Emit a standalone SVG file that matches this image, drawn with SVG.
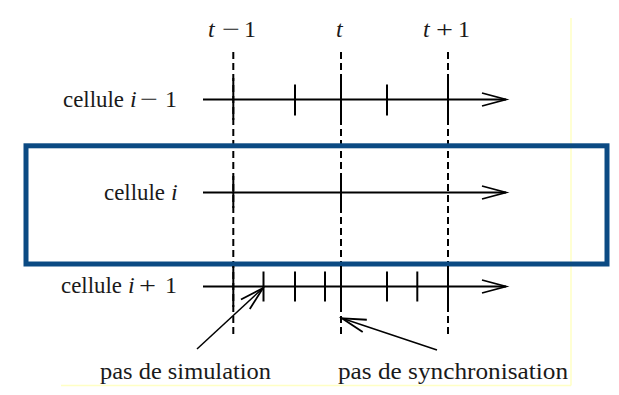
<svg xmlns="http://www.w3.org/2000/svg" width="619" height="395" viewBox="0 0 619 395">
<style>
text{font-family:"Liberation Serif","DejaVu Serif",serif;font-size:24px;fill:#1a1a1a}
.m{font-style:italic}
.ax{stroke:#000;stroke-width:2;fill:none}
.tk{stroke:#000;stroke-width:2}
.dash{stroke:#000;stroke-width:2;stroke-dasharray:7 4}
.ptr{stroke:#000;stroke-width:1.5;fill:none}
</style>
<defs>
<marker id="open" markerUnits="userSpaceOnUse" orient="auto" refX="0" refY="0" markerWidth="40" markerHeight="20" overflow="visible">
<path d="M-24,-6.5 L0,0 L-24,6.5" fill="none" stroke="#000" stroke-width="1.8"/>
</marker>
</defs>
<rect width="619" height="395" fill="#fff"/>
<g id="frame" stroke="#ffffc4" stroke-width="1.5" fill="none">
<line x1="571" y1="18" x2="571" y2="385.5"/>
<line x1="61" y1="385.5" x2="571" y2="385.5"/>
</g>
<g id="time-labels">
<text x="208" y="37"><tspan class="m">t</tspan><tspan x="222" textLength="18" lengthAdjust="spacingAndGlyphs">−</tspan><tspan x="244">1</tspan></text>
<text x="336" y="37" class="m">t</text>
<text x="423" y="37"><tspan class="m">t</tspan><tspan x="436" textLength="17" lengthAdjust="spacingAndGlyphs">+</tspan><tspan x="458">1</tspan></text>
</g>
<g id="time-lines">
<line class="dash" x1="233.3" y1="52" x2="233.3" y2="334"/>
<line class="dash" x1="341" y1="52" x2="341" y2="334"/>
<line class="dash" x1="448" y1="52" x2="448" y2="334"/>
</g>
<g id="cell-i-minus-1">
<text x="63" y="107"><tspan textLength="61" lengthAdjust="spacingAndGlyphs">cellule</tspan><tspan class="m" x="130">i</tspan><tspan x="140" textLength="18" lengthAdjust="spacingAndGlyphs">−</tspan><tspan x="165">1</tspan></text>
<line class="ax" x1="203" y1="99.5" x2="506" y2="99.5" marker-end="url(#open)"/>
<line class="tk" x1="233.3" y1="78" x2="233.3" y2="120"/>
<line class="tk" x1="295" y1="84.5" x2="295" y2="115.5"/>
<line class="tk" x1="341" y1="78" x2="341" y2="120"/>
<line class="tk" x1="387" y1="84.5" x2="387" y2="115.5"/>
<line class="tk" x1="448" y1="78" x2="448" y2="120"/>
</g>
<g id="cell-i">
<text x="104" y="200"><tspan textLength="61" lengthAdjust="spacingAndGlyphs">cellule</tspan><tspan class="m" x="171">i</tspan></text>
<line class="ax" x1="203" y1="192.5" x2="506" y2="192.5" marker-end="url(#open)"/>
<line class="tk" x1="233.3" y1="176" x2="233.3" y2="208"/>
<line class="tk" x1="341" y1="176" x2="341" y2="208"/>
</g>
<g id="cell-i-box">
<rect x="26" y="145.8" width="581" height="118.2" fill="none" stroke="#0b4a83" stroke-width="5"/>
</g>
<g id="cell-i-plus-1">
<text x="61" y="293"><tspan textLength="61" lengthAdjust="spacingAndGlyphs">cellule</tspan><tspan class="m" x="128">i</tspan><tspan x="139" textLength="17" lengthAdjust="spacingAndGlyphs">+</tspan><tspan x="165">1</tspan></text>
<line class="ax" x1="203" y1="286.5" x2="506" y2="286.5" marker-end="url(#open)"/>
<line class="tk" x1="233.3" y1="266" x2="233.3" y2="307"/>
<line class="tk" x1="263.5" y1="271.5" x2="263.5" y2="301.5"/>
<line class="tk" x1="295" y1="271.5" x2="295" y2="301.5"/>
<line class="tk" x1="325" y1="271.5" x2="325" y2="301.5"/>
<line class="tk" x1="341" y1="266" x2="341" y2="307"/>
<line class="tk" x1="387" y1="271.5" x2="387" y2="301.5"/>
<line class="tk" x1="417.3" y1="271.5" x2="417.3" y2="301.5"/>
<line class="tk" x1="448" y1="266" x2="448" y2="307"/>
</g>
<g id="note-simulation">
<text x="100" y="379" textLength="171" lengthAdjust="spacingAndGlyphs">pas de simulation</text>
</g>
<g id="note-synchronisation">
<text x="338" y="379" textLength="230" lengthAdjust="spacingAndGlyphs">pas de synchronisation</text>
</g>
<g id="connectors">
<line class="ptr" x1="197" y1="349" x2="263" y2="288" marker-end="url(#open)"/>
<line class="ptr" x1="437" y1="350" x2="342" y2="318.3" marker-end="url(#open)"/>
</g>
</svg>
